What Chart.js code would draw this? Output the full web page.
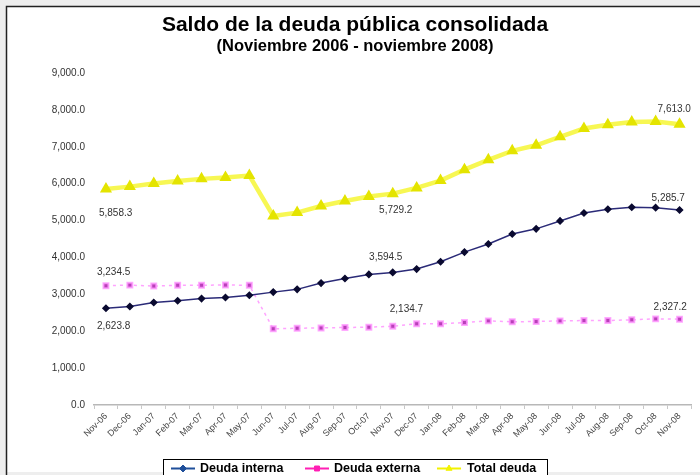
<!DOCTYPE html>
<html>
<head>
<meta charset="utf-8">
<script src="https://cdn.jsdelivr.net/npm/chart.js@4.4.0/dist/chart.umd.min.js"></script>
<style>
  html, body { margin: 0; padding: 0; background: #eeeeee; }
  #wrap { position: relative; width: 700px; height: 475px; overflow: hidden; }
</style>
</head>
<body>
<div id="wrap"><canvas id="deudaChart" width="700" height="475"></canvas></div>
<script>
// Datos (millones) - saldo de la deuda pública consolidada
const meses = ['Nov-06','Dec-06','Jan-07','Feb-07','Mar-07','Apr-07','May-07','Jun-07','Jul-07',
    'Aug-07','Sep-07','Oct-07','Nov-07','Dec-07','Jan-08','Feb-08','Mar-08','Apr-08','May-08',
    'Jun-08','Jul-08','Aug-08','Sep-08','Oct-08','Nov-08'];

const deudaInterna = [2623.8, 2670, 2780, 2825, 2885, 2915, 2975, 3060, 3135, 3305, 3430, 3540,
    3594.5, 3685, 3885, 4145, 4365, 4635, 4775, 4990, 5205, 5305, 5360, 5350, 5285.7];

const deudaExterna = [3234.5, 3250, 3225, 3245, 3245, 3255, 3245, 2065, 2080, 2090, 2100, 2110,
    2134.7, 2200, 2200, 2235, 2280, 2255, 2265, 2280, 2290, 2290, 2310, 2335, 2327.2];

const totalDeuda = [5858.3, 5920, 6005, 6070, 6130, 6170, 6220, 5125, 5215, 5395, 5530, 5650,
    5729.2, 5885, 6085, 6380, 6645, 6890, 7040, 7270, 7495, 7595, 7670, 7685, 7613.0];

const yTicks = [0, 1000, 2000, 3000, 4000, 5000, 6000, 7000, 8000, 9000];

// etiquetas de datos: [dataset, indice, dx, dy, alineacion]
const etiquetas = [
    [2, 0, -7, 24, 'left'],
    [0, 0, -9, 18, 'left'],
    [1, 0, -9, -13, 'left'],
    [0, 12, -7, -15, 'center'],
    [1, 12, -3, -17, 'left'],
    [2, 12, 3, 17, 'center'],
    [2, 24, -22, -15, 'left'],
    [0, 24, -28, -12, 'left'],
    [1, 24, -26, -12, 'left']
];

const fmt = v => v.toLocaleString('en-US', { minimumFractionDigits: 1, maximumFractionDigits: 1 });

// fondo y marco del gráfico
const marcoPlugin = {
    id: 'marco',
    beforeDraw(chart) {
        const ctx = chart.ctx;
        ctx.save();
        ctx.fillStyle = '#eeeeee';
        ctx.fillRect(0, 0, chart.width, chart.height);
        ctx.fillStyle = '#ffffff';
        ctx.fillRect(7, 7, chart.width - 7, 465);
        ctx.strokeStyle = '#222222';
        ctx.lineWidth = 1.5;
        ctx.beginPath();
        ctx.moveTo(6.5, chart.height);
        ctx.lineTo(6.5, 6.5);
        ctx.lineTo(chart.width, 6.5);
        ctx.stroke();

        ctx.fillStyle = '#000';
        ctx.textAlign = 'center';
        ctx.textBaseline = 'middle';
        ctx.font = 'bold 21px "Liberation Sans", Arial, sans-serif';
        ctx.fillText('Saldo de la deuda pública consolidada', 355, 25);
        ctx.font = 'bold 16.5px "Liberation Sans", Arial, sans-serif';
        ctx.fillText('(Noviembre 2006 - noviembre 2008)', 355, 46);
        ctx.restore();
    }
};

// valores sobre los puntos
const etiquetasPlugin = {
    id: 'etiquetas',
    afterDatasetsDraw(chart) {
        const ctx = chart.ctx;
        ctx.save();
        ctx.font = '10px "Liberation Sans", Arial, sans-serif';
        ctx.fillStyle = '#333';
        ctx.textBaseline = 'middle';
        etiquetas.forEach(([ds, i, dx, dy, align]) => {
            const pt = chart.getDatasetMeta(ds).data[i];
            const v = chart.data.datasets[ds].data[i];
            ctx.textAlign = align;
            ctx.fillText(fmt(v), pt.x + dx, pt.y + dy);
        });
        ctx.restore();
    }
};

// leyenda con recuadro abajo
const leyendaPlugin = {
    id: 'leyenda',
    afterDraw(chart) {
        const ctx = chart.ctx;
        const items = [
            { text: 'Deuda interna', color: '#1f4f9a', style: 'rectRot', sx: 171, tx: 200 },
            { text: 'Deuda externa', color: '#ff1fb4', style: 'rect', sx: 305, tx: 334 },
            { text: 'Total deuda', color: '#f2f200', style: 'triangle', sx: 437, tx: 467 }
        ];
        ctx.save();
        ctx.fillStyle = '#fff';
        ctx.fillRect(163, 459, 384, 20);
        ctx.strokeStyle = '#000';
        ctx.lineWidth = 1;
        ctx.strokeRect(163.5, 459.5, 384, 20);
        const y = 468.5;
        items.forEach(it => {
            ctx.strokeStyle = it.color;
            ctx.lineWidth = 2;
            ctx.beginPath();
            ctx.moveTo(it.sx, y);
            ctx.lineTo(it.sx + 24, y);
            ctx.stroke();
            ctx.fillStyle = it.color;
            ctx.lineWidth = 1;
            Chart.helpers.drawPoint(ctx, { pointStyle: it.style, radius: 3.5, borderWidth: 1 }, it.sx + 12, y);
            ctx.fillStyle = '#000';
            ctx.font = 'bold 12.5px "Liberation Sans", Arial, sans-serif';
            ctx.textAlign = 'left';
            ctx.textBaseline = 'middle';
            ctx.fillText(it.text, it.tx, y);
        });
        ctx.restore();
    }
};

const ctx = document.getElementById('deudaChart');

new Chart(ctx, {
    type: 'line',
    data: {
        labels: meses,
        datasets: [
            {
                label: 'Deuda interna',
                data: deudaInterna,
                borderColor: '#2b2b78',
                borderWidth: 1.5,
                pointStyle: 'rectRot',
                pointRadius: 3,
                pointBackgroundColor: '#0a0a30',
                pointBorderColor: '#0a0a30',
                tension: 0,
                order: 1
            },
            {
                label: 'Deuda externa',
                data: deudaExterna,
                borderColor: 'rgba(255, 140, 255, 0.8)',
                borderWidth: 1.5,
                borderDash: [3, 4],
                pointStyle: 'rect',
                pointRadius: 3.5,
                pointBackgroundColor: '#b840b8',
                pointBorderColor: 'rgba(255, 150, 255, 0.8)',
                pointBorderWidth: 2,
                tension: 0,
                order: 2
            },
            {
                label: 'Total deuda',
                data: totalDeuda,
                borderColor: 'rgba(245, 245, 40, 0.8)',
                borderWidth: 4.5,
                pointStyle: 'triangle',
                pointRadius: 2.5,
                pointBackgroundColor: '#e4e400',
                pointBorderColor: '#e4e400',
                tension: 0,
                order: 3
            }
        ]
    },
    options: {
        responsive: false,
        animation: false,
        layout: { padding: { top: 73, right: 3, left: 0, bottom: 0 } },
        plugins: {
            legend: { display: false },
            tooltip: { enabled: false }
        },
        scales: {
            x: {
                offset: true,
                grid: {
                    display: true,
                    offset: true,
                    drawOnChartArea: false,
                    drawTicks: true,
                    tickLength: 4,
                    color: '#c8c8c8'
                },
                border: { display: true, color: '#b8b8b8', width: 1.5 },
                ticks: {
                    minRotation: 45,
                    maxRotation: 45,
                    autoSkip: false,
                    padding: 2,
                    color: '#444',
                    font: { family: '"Liberation Sans", Arial, sans-serif', size: 9 }
                },
                afterFit: scale => { scale.height = 70; }
            },
            y: {
                min: 0,
                max: 9000,
                afterBuildTicks: scale => { scale.ticks = yTicks.map(v => ({ value: v })); },
                grid: { display: false, drawTicks: false },
                border: { display: false },
                ticks: {
                    padding: 9,
                    color: '#333',
                    font: { family: '"Liberation Sans", Arial, sans-serif', size: 10 },
                    callback: v => fmt(v)
                },
                afterFit: scale => { scale.width = 94; }
            }
        }
    },
    plugins: [marcoPlugin, etiquetasPlugin, leyendaPlugin]
});
</script>
</body>
</html>
